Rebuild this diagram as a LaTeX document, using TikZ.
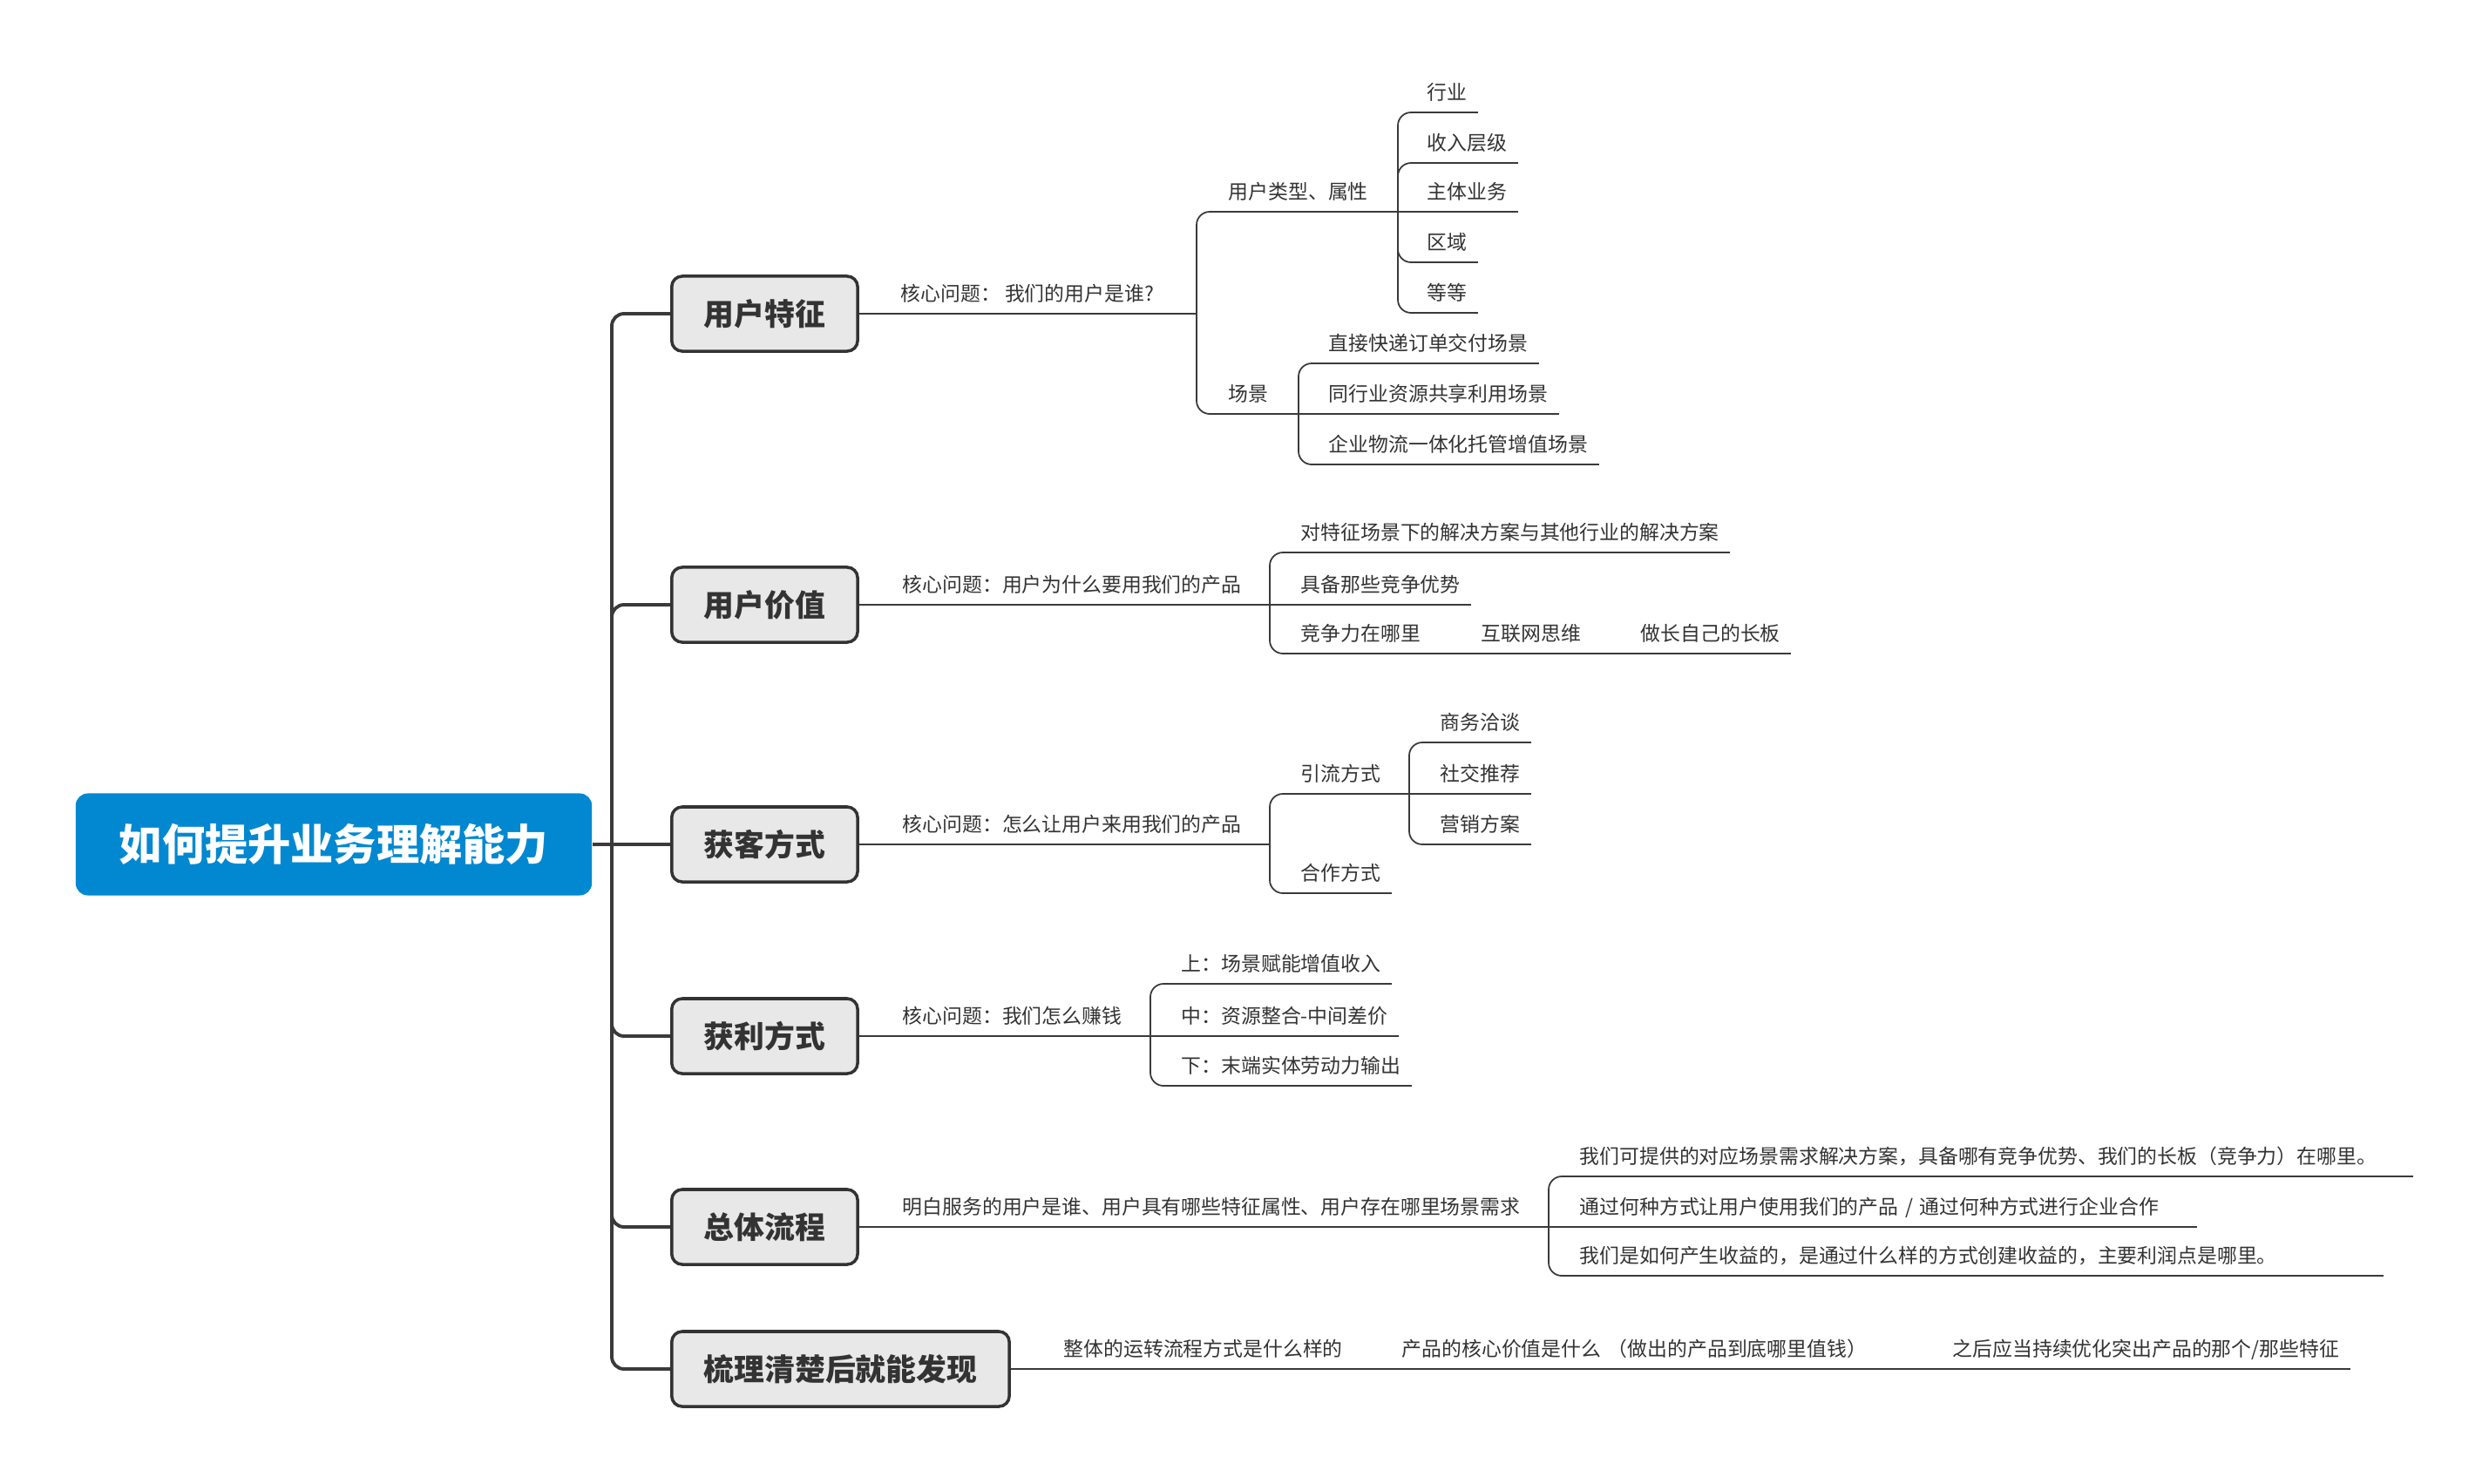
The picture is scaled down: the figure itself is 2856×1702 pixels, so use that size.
\documentclass[tikz,border=0pt]{standalone}
\usepackage{fontspec}
\setmainfont{Noto Sans CJK SC}

\definecolor{rootblue}{HTML}{0288D1}
\definecolor{boxgray}{HTML}{E8E8E8}
\definecolor{inkgray}{HTML}{333333}
\definecolor{linegray}{HTML}{3A3A3A}

\tikzset{
  root/.style={fill=rootblue, rounded corners=0.14cm, text=white,
    font=\fontsize{14}{16}\selectfont\bfseries,
    minimum width=5.92cm, minimum height=1.17cm, inner sep=0pt},
  mainbox/.style={draw=inkgray, line width=1pt, fill=boxgray,
    rounded corners=0.12cm, text=inkgray,
    font=\fontsize{9.9}{12}\selectfont\bfseries,
    minimum height=0.86cm, inner xsep=0.37cm, anchor=west},
  uline/.style={draw=linegray, line width=0.7pt},
  topic/.style={font=\fontsize{6.5}{8}\selectfont, text=inkgray,
    inner xsep=0.12cm, inner ysep=0.136cm, text depth=0pt, anchor=south west,
    append after command={(\tikzlastnode.south west) edge[uline] (\tikzlastnode.south east)}},
  conn/.style={draw=linegray, line width=0.5pt, rounded corners=0.15cm},
  trunk/.style={draw=linegray, line width=1.1pt, rounded corners=0.14cm},
}

\begin{document}
\begin{tikzpicture}[x=0.01cm, y=-0.01cm]
\useasboundingbox (0,0) rectangle (2856,1702);

% 中心主题
\node[root] (root) at (383,969) {如何提升业务理解能力};

% 一级分支
\node[mainbox] (feature) at (769,360) {用户特征};
\node[mainbox] (value) at (769,694) {用户价值};
\node[mainbox] (acquire) at (769,969) {获客方式};
\node[mainbox] (profit) at (769,1189) {获利方式};
\node[mainbox] (flow) at (769,1408) {总体流程};
\node[mainbox] (sortout) at (769,1571) {梳理清楚后就能发现};

\coordinate (hub) at (702,969);
\draw[trunk] (root.east) -- (hub) -- (acquire.west);
\foreach \b in {feature,value,profit,flow,sortout}
  \draw[trunk] (hub) |- (\b.west);

% 用户特征
\node[topic] (q1) at (1021,360) {核心问题： 我们的用户是谁?};
\coordinate (f1) at (1373,360);
\node[topic] (type) at (1397,243) {用户类型、属性};
\node[topic] (scene) at (1397,475) {场景};
\coordinate (f11) at (1604,243);
\node[topic] (industry) at (1625,129) {行业};
\node[topic] (income) at (1625,187) {收入层级};
\node[topic] (business) at (1625,243) {主体业务};
\node[topic] (region) at (1625,301) {区域};
\node[topic] (etc) at (1625,359) {等等};
\coordinate (f12) at (1490,475);
\node[topic] (express) at (1512,417) {直接快递订单交付场景};
\node[topic] (share) at (1512,475) {同行业资源共享利用场景};
\node[topic] (hosting) at (1512,533) {企业物流一体化托管增值场景};

\draw[conn] (feature.east) -- (q1.south west);
\draw[conn] (q1.south east) -- (f1);
\foreach \c in {type,scene}
  \draw[conn] (f1) |- (\c.south west);
\draw[conn] (type.south east) -- (f11) -- (business.south west);
\foreach \c in {industry,income,region,etc}
  \draw[conn] (f11) |- (\c.south west);
\draw[conn] (scene.south east) -- (f12) -- (share.south west);
\foreach \c in {express,hosting}
  \draw[conn] (f12) |- (\c.south west);

% 用户价值
\node[topic] (q2) at (1023,694) {核心问题：用户为什么要用我们的产品};
\coordinate (f2) at (1457,694);
\node[topic] (compare) at (1480,634) {对特征场景下的解决方案与其他行业的解决方案};
\node[topic] (advantage) at (1480,694) {具备那些竞争优势};
\node[topic] (compete) at (1480,750) {竞争力在哪里};
\node[topic] (internet) at (1687,750) {互联网思维};
\node[topic] (longboard) at (1870,750) {做长自己的长板};

\draw[conn] (value.east) -- (q2.south west);
\draw[conn] (q2.south east) -- (f2) -- (advantage.south west);
\foreach \c in {compare,compete}
  \draw[conn] (f2) |- (\c.south west);
\draw[conn] (compete.south east) -- (internet.south west);
\draw[conn] (internet.south east) -- (longboard.south west);

% 获客方式
\node[topic] (q3) at (1023,969) {核心问题：怎么让用户来用我们的产品};
\coordinate (f3) at (1457,969);
\node[topic] (traffic) at (1480,911) {引流方式};
\node[topic] (coop) at (1480,1025) {合作方式};
\coordinate (f31) at (1617,911);
\node[topic] (negotiate) at (1640,852) {商务洽谈};
\node[topic] (social) at (1640,911) {社交推荐};
\node[topic] (marketing) at (1640,969) {营销方案};

\draw[conn] (acquire.east) -- (q3.south west);
\draw[conn] (q3.south east) -- (f3);
\foreach \c in {traffic,coop}
  \draw[conn] (f3) |- (\c.south west);
\draw[conn] (traffic.south east) -- (f31) -- (social.south west);
\foreach \c in {negotiate,marketing}
  \draw[conn] (f31) |- (\c.south west);

% 获利方式
\node[topic] (q4) at (1023,1189) {核心问题：我们怎么赚钱};
\coordinate (f4) at (1320,1189);
\node[topic] (upper) at (1343,1129) {上：场景赋能增值收入};
\node[topic] (middle) at (1343,1189) {中：资源整合-中间差价};
\node[topic] (lower) at (1343,1246) {下：末端实体劳动力输出};

\draw[conn] (profit.east) -- (q4.south west);
\draw[conn] (q4.south east) -- (f4) -- (middle.south west);
\foreach \c in {upper,lower}
  \draw[conn] (f4) |- (\c.south west);

% 总体流程
\node[topic] (q5) at (1023,1408) {明白服务的用户是谁、用户具有哪些特征属性、用户存在哪里场景需求};
\coordinate (f5) at (1777,1408);
\node[topic, text width=9.43cm, align=left] (offer) at (1800,1350)
  {我们可提供的对应场景需求解决方案，具备哪有竞争优势、我们的长板（竞争力）在哪里。};
\node[topic, text width=6.95cm, align=left] (channel) at (1800,1408)
  {通过何种方式让用户使用我们的产品 / 通过何种方式进行企业合作};
\node[topic, text width=9.09cm, align=left] (earn) at (1800,1464)
  {我们是如何产生收益的，是通过什么样的方式创建收益的，主要利润点是哪里。};

\draw[conn] (flow.east) -- (q5.south west);
\draw[conn] (q5.south east) -- (f5) -- (channel.south west);
\foreach \c in {offer,earn}
  \draw[conn] (f5) |- (\c.south west);

% 梳理清楚后就能发现
\node[topic] (overall) at (1208,1571) {整体的运转流程方式是什么样的};
\node[topic, text width=5.63cm, align=left] (core) at (1596,1571)
  {产品的核心价值是什么 （做出的产品到底哪里值钱）};
\node[topic] (optimize) at (2228,1571) {之后应当持续优化突出产品的那个/那些特征};

\draw[conn] (sortout.east) -- (overall.south west);
\draw[conn] (overall.south east) -- (core.south west);
\draw[conn] (core.south east) -- (optimize.south west);

\end{tikzpicture}
\end{document}
